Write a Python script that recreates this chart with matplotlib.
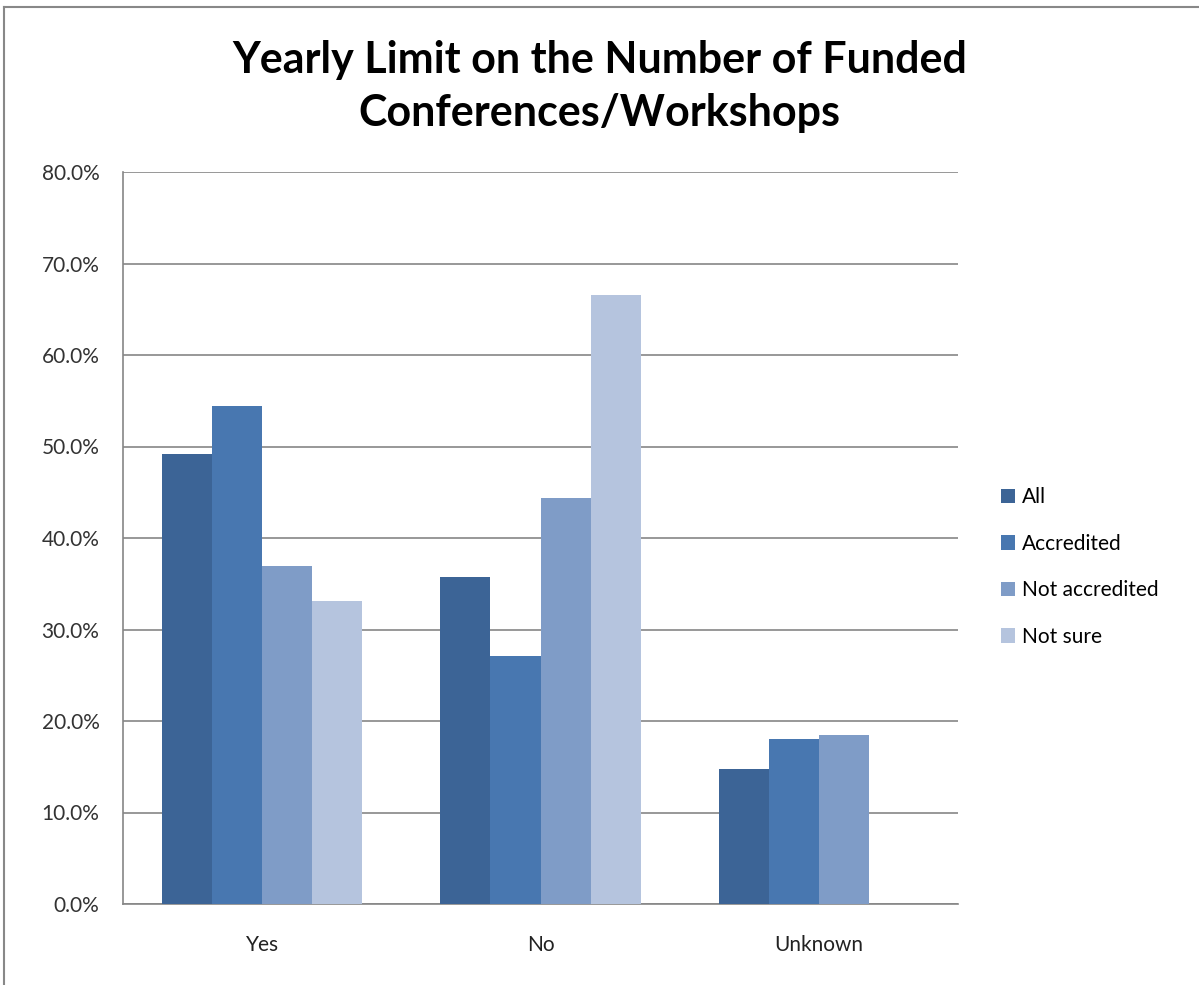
import matplotlib
matplotlib.use("Agg")
import matplotlib.pyplot as plt
from matplotlib.lines import Line2D
from matplotlib.patches import Patch
import numpy as np

categories = ["Yes", "No", "Unknown"]
series_names = ["All", "Accredited", "Not accredited", "Not sure"]
all_vals = [49.2, 35.7, 14.8]
accredited_vals = [54.4, 27.1, 18.0]
not_accredited_vals = [36.9, 44.4, 18.5]
not_sure_vals = [33.1, 66.6, 0.0]
yticks = [0, 10, 20, 30, 40, 50, 60, 70, 80]
colors = ["#3C6496", "#4877B0", "#7F9CC7", "#B5C4DE"]

plt.rcParams['font.family'] = ['Lato', 'DejaVu Sans']

fig = plt.figure(figsize=(11.99, 9.85), dpi=100)
ax = fig.add_axes([123/1199, 1-904/985, (958-123)/1199, (904-172)/985])

data = [all_vals, accredited_vals, not_accredited_vals, not_sure_vals]
x = np.arange(len(categories))
w = 0.18
for i, (vals, c) in enumerate(zip(data, colors)):
    ax.bar(x + (i - 1.5) * w, vals, width=w, color=c, align='center', zorder=3, linewidth=0)

ax.set_xlim(-0.5, 2.5)
ax.set_ylim(0, 80)
ax.set_yticks(yticks)
ax.set_yticklabels([f"{v:.1f}%" for v in yticks], fontsize=15, color="#333333")
ax.set_xticks(x)
ax.set_xticklabels(categories, fontsize=15, color="#222222")
ax.tick_params(axis='both', length=0)
ax.tick_params(axis='y', pad=17)
ax.tick_params(axis='x', pad=22)
ax.grid(axis='y', color="#868686", linewidth=1.2, zorder=0)
for s in ["top", "right"]:
    ax.spines[s].set_visible(False)
for s in ["left", "bottom"]:
    ax.spines[s].set_color("#868686")
    ax.spines[s].set_linewidth(1.2)

fig.text(0.5, 1-60/985, "Yearly Limit on the Number of Funded", ha='center', va='center',
         fontsize=31, fontweight='bold')
fig.text(0.5, 1-113/985, "Conferences/Workshops", ha='center', va='center',
         fontsize=31, fontweight='bold')

handles = [Patch(facecolor=c, edgecolor='none') for c in colors]
leg = fig.legend(handles, series_names, loc='center left',
                 bbox_to_anchor=(982/1199, 1-567/985), frameon=False,
                 fontsize=15, handlelength=0.7, handleheight=0.7,
                 handletextpad=0.3, labelspacing=1.27)

# chart frame border (left and top visible)
fig.add_artist(Line2D([4/1199, 4/1199], [0, 1-7/985], transform=fig.transFigure, color="#888888", linewidth=1.5))
fig.add_artist(Line2D([4/1199, 1], [1-7/985, 1-7/985], transform=fig.transFigure, color="#888888", linewidth=1.5))

fig.savefig("out.png", dpi=100)
